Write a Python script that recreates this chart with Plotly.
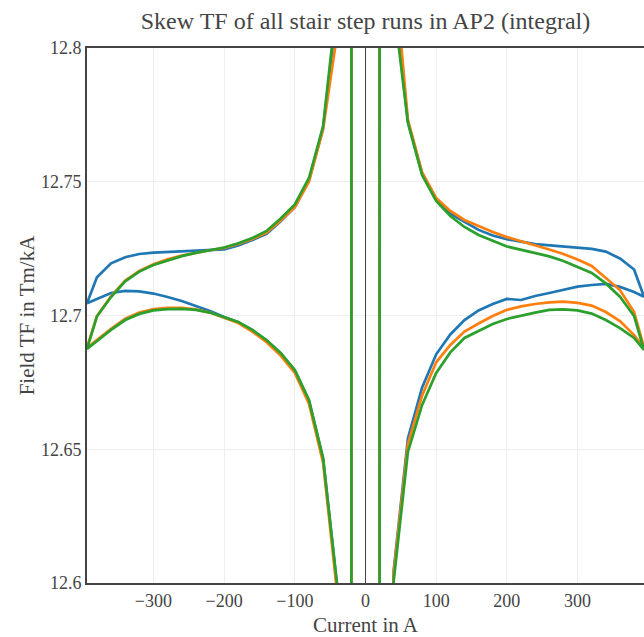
import plotly.graph_objects as go

# current magnitudes (A) of the stair steps, from small to large
current_steps = [20, 40, 60, 80, 100, 120, 140, 160, 180, 200, 220, 240,
                 260, 280, 300, 320, 340, 360, 380, 394]
# reading at (nearly) zero current, where TF = B/I diverges
zero_current = 0.0
zero_tf = 1.0e4

# Series 1 (blue)
blue_upper_right = [12.94, 12.82, 12.7725, 12.7531, 12.7434, 12.7381, 12.7350, 12.7320, 12.7299, 12.7285,
                    12.7276, 12.7267, 12.7262, 12.7258, 12.7254, 12.7249, 12.7239, 12.7213, 12.7172, 12.7070]
blue_lower_left = [12.45, 12.5985, 12.6465, 12.6682, 12.6794, 12.6858, 12.6906, 12.6945, 12.6975, 12.6994,
                   12.7017, 12.7036, 12.7054, 12.7069, 12.7082, 12.7090, 12.7092, 12.7084, 12.7062, 12.7046]
blue_upper_left = [12.95, 12.815, 12.770, 12.7505, 12.7405, 12.7352, 12.7305, 12.7282, 12.7262, 12.7247,
                   12.7245, 12.7241, 12.7239, 12.7237, 12.7235, 12.7230, 12.7218, 12.7195, 12.7143, 12.7046]
blue_lower_right = [12.45, 12.605, 12.654, 12.673, 12.6855, 12.6929, 12.6983, 12.7019, 12.7043, 12.7062,
                    12.7058, 12.7073, 12.7084, 12.7097, 12.7108, 12.7114, 12.7118, 12.7107, 12.7088, 12.7070]

# Series 2 (orange)
orange_upper_right = [12.95, 12.832, 12.7731, 12.7536, 12.7439, 12.7391, 12.7357, 12.7333, 12.7312, 12.7293,
                      12.7279, 12.7262, 12.7247, 12.7230, 12.7209, 12.7185, 12.7140, 12.7095, 12.7013, 12.6880]
orange_lower_left = [12.45, 12.596, 12.645, 12.667, 12.6785, 12.685, 12.690, 12.694, 12.6972, 12.6992,
                     12.7011, 12.7023, 12.7029, 12.7029, 12.7024, 12.7011, 12.6988, 12.6950, 12.6907, 12.6880]
orange_upper_left = [12.92, 12.8055, 12.7695, 12.7500, 12.7405, 12.7355, 12.7310, 12.7286, 12.7267, 12.7253,
                     12.7244, 12.7235, 12.7224, 12.7210, 12.7192, 12.7167, 12.7131, 12.7072, 12.6998, 12.6880]
orange_lower_right = [12.45, 12.604, 12.652, 12.670, 12.6825, 12.6890, 12.6940, 12.6970, 12.6998, 12.7021,
                      12.7034, 12.7043, 12.7049, 12.7052, 12.7047, 12.7037, 12.7013, 12.6979, 12.6927, 12.6880]

# Series 3 (green)
green_upper_right = [12.93, 12.816, 12.7720, 12.7525, 12.7428, 12.7372, 12.7331, 12.7301, 12.7279, 12.7258,
                     12.7245, 12.7234, 12.7221, 12.7204, 12.7183, 12.7159, 12.7120, 12.7070, 12.6998, 12.6871]
green_lower_left = [12.45, 12.599, 12.6467, 12.6684, 12.6796, 12.6860, 12.6908, 12.6946, 12.6976, 12.6994,
                    12.7011, 12.7021, 12.7025, 12.7024, 12.7019, 12.7006, 12.6983, 12.6946, 12.6905, 12.6875]
green_upper_left = [12.96, 12.8187, 12.7708, 12.7514, 12.7415, 12.7363, 12.7316, 12.7290, 12.7270, 12.7254,
                    12.7243, 12.7234, 12.7222, 12.7207, 12.7189, 12.7164, 12.7128, 12.7069, 12.6996, 12.6875]
green_lower_right = [12.45, 12.601, 12.649, 12.6665, 12.6785, 12.6862, 12.6916, 12.6942, 12.6968, 12.6987,
                     12.7000, 12.7011, 12.7021, 12.7023, 12.7019, 12.7007, 12.6983, 12.6953, 12.6916, 12.6871]

series_colors = ["#1f77b4", "#ff7f0e", "#2ca02c"]


def build_loop(upper_right, lower_left, upper_left, lower_right):
    xs, ys = [], []
    # descending: +max -> 0 -> -max
    for i, y in zip(reversed(current_steps), reversed(upper_right)):
        xs.append(i); ys.append(y)
    xs.append(zero_current); ys.append(zero_tf)
    for i, y in zip(current_steps, lower_left):
        xs.append(-i); ys.append(y)
    # ascending: -max -> 0 -> +max
    for i, y in zip(list(reversed(current_steps))[1:], list(reversed(upper_left))[1:]):
        xs.append(-i); ys.append(y)
    xs.append(zero_current); ys.append(zero_tf)
    for i, y in zip(current_steps, lower_right):
        xs.append(i); ys.append(y)
    return xs, ys


loops = [
    build_loop(blue_upper_right, blue_lower_left, blue_upper_left, blue_lower_right),
    build_loop(orange_upper_right, orange_lower_left, orange_upper_left, orange_lower_right),
    build_loop(green_upper_right, green_lower_left, green_upper_left, green_lower_right),
]

fig = go.Figure()
for (xs, ys), c in zip(loops, series_colors):
    fig.add_trace(go.Scatter(x=xs, y=ys, mode="lines", line=dict(color=c, width=2.7),
                             showlegend=False))

font_family = "Times New Roman, Liberation Serif, serif"
fig.update_layout(
    width=644, height=637,
    template="none",
    paper_bgcolor="white", plot_bgcolor="white",
    margin=dict(l=87, r=0, t=48, b=54),
    font=dict(family=font_family, color="#444", size=18),
    title=dict(text="Skew TF of all stair step runs in AP2 (integral)",
               xref="paper", x=0.5, xanchor="center", y=0.968, yanchor="middle",
               font=dict(family=font_family, size=24, color="#444")),
    showlegend=False,
)
fig.update_xaxes(
    range=[-394, 394], dtick=100, tick0=0,
    showgrid=True, gridcolor="#eee", gridwidth=1,
    zeroline=True, zerolinecolor="#444", zerolinewidth=1,
    showline=True, linecolor="#444", linewidth=2, mirror=True,
    ticks="", tickfont=dict(size=18, color="#444"),
    title=dict(text="Current in A", font=dict(size=21, color="#444")),
)
fig.update_yaxes(
    range=[12.6, 12.8], dtick=0.05, tick0=12.6,
    showgrid=True, gridcolor="#eee", gridwidth=1,
    zeroline=False,
    showline=True, linecolor="#444", linewidth=2, mirror=False,
    ticks="", tickfont=dict(size=18, color="#444"),
    title=dict(text="Field TF in Tm/kA", font=dict(size=21, color="#444")),
)

fig.write_html("out.html")
